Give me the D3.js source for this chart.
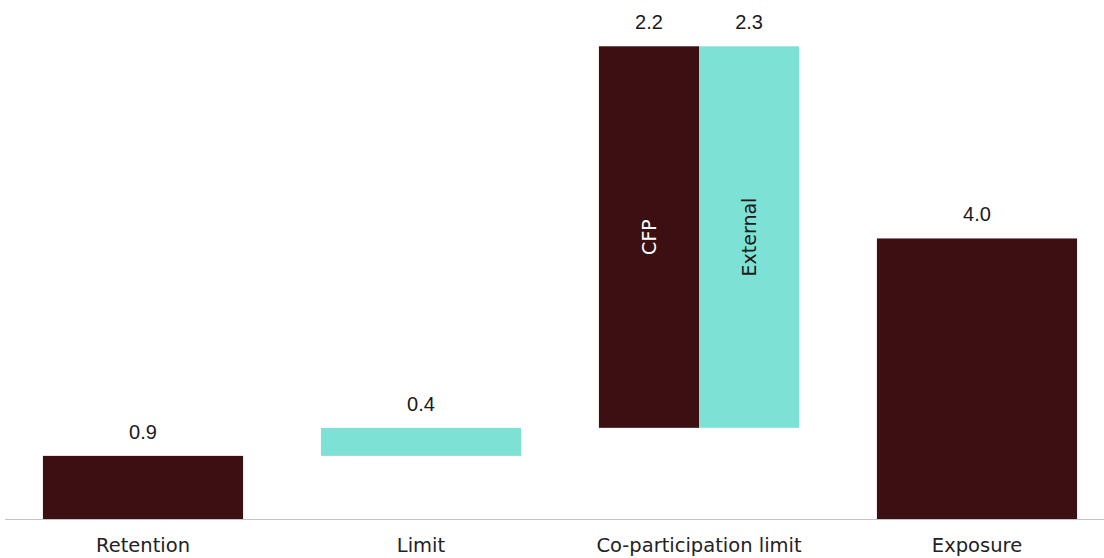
<!DOCTYPE html>
<html>
<head>
<meta charset="utf-8">
<script src="https://cdn.jsdelivr.net/npm/d3@7"></script>
<style>
  body { margin: 0; background: #fff; }
  svg { display: block; }
</style>
</head>
<body>
<div id="chart"></div>
<script>
// categories along the x axis
const categories = ["Retention", "Limit", "Co-participation limit", "Exposure"];

// each segment: which category, sub slot, start and end (in chart units), label
const segCategory = ["Retention", "Limit", "Co-participation limit", "Co-participation limit", "Exposure"];
const segSlot     = ["all", "all", "CFP", "External", "all"];
const segStart    = [0, 0.9, 1.3, 1.3, 0];
const segEnd      = [0.9, 1.3, 6.74, 6.74, 4.0];
const segLabel    = ["0.9", "0.4", "2.2", "2.3", "4.0"];
const segKind     = ["dark", "teal", "dark", "teal", "dark"];
const subSlots    = ["CFP", "External"];

const data = segCategory.map((c, i) => ({
  category: c, slot: segSlot[i], start: segStart[i], end: segEnd[i],
  label: segLabel[i], kind: segKind[i]
}));

const width = 1104, height = 558;
const colors = { dark: "#3c1013", teal: "#7de2d5" };
const valueFont = "'Liberation Sans', Arial, sans-serif";
const labelFont = "'DejaVu Sans', Verdana, sans-serif";

const svg = d3.select("#chart").append("svg")
  .attr("width", width)
  .attr("height", height);

const x = d3.scaleBand()
  .domain(categories)
  .range([4, 1116])
  .paddingInner(0.28)
  .paddingOuter(0.14);

const xSub = d3.scaleBand()
  .domain(subSlots)
  .range([0, x.bandwidth()]);

const y = d3.scaleLinear().domain([0, 7.4]).range([519, 0]);

function segX(d) {
  return d.slot === "all" ? x(d.category) : x(d.category) + xSub(d.slot);
}
function segW(d) {
  return d.slot === "all" ? x.bandwidth() : xSub.bandwidth();
}

svg.append("g").selectAll("rect")
  .data(data)
  .join("rect")
  .attr("x", segX)
  .attr("y", d => y(d.end))
  .attr("width", segW)
  .attr("height", d => y(d.start) - y(d.end))
  .attr("fill", d => colors[d.kind]);

// value labels
svg.append("g").selectAll("text")
  .data(data)
  .join("text")
  .attr("x", d => segX(d) + segW(d) / 2)
  .attr("y", d => y(d.end) - 17)
  .attr("text-anchor", "middle")
  .style("font-family", valueFont)
  .style("font-size", "20px")
  .attr("fill", "#1a1a1a")
  .text(d => d.label);

// rotated labels in co-participation bars
svg.append("g").selectAll("text")
  .data(data.filter(d => d.slot !== "all"))
  .join("text")
  .attr("transform", d => {
    const cx = segX(d) + segW(d) / 2;
    const cy = (y(d.start) + y(d.end)) / 2;
    return `translate(${cx},${cy}) rotate(-90)`;
  })
  .attr("text-anchor", "middle")
  .attr("dy", "0.36em")
  .style("font-family", labelFont)
  .style("font-size", "19px")
  .attr("fill", d => d.kind === "dark" ? "#ffffff" : "#1a1a1a")
  .text(d => d.slot);

// baseline axis
const xAxis = d3.axisBottom(x).tickSize(0).tickPadding(19);
const gx = svg.append("g")
  .attr("transform", `translate(0, ${y(0)})`)
  .call(xAxis);
gx.select(".domain").attr("stroke", "#c4c4c4").attr("d", `M5,0.5H${width}`);
gx.selectAll(".tick text")
  .style("font-family", labelFont)
  .style("font-size", "19.5px")
  .attr("fill", "#222");
</script>
</body>
</html>
